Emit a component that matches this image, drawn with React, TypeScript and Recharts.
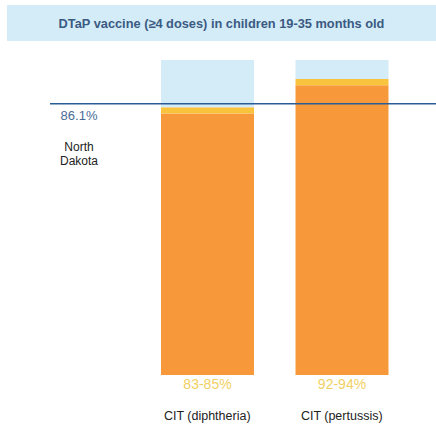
import { BarChart, Bar, XAxis, YAxis, ReferenceLine, LabelList } from "recharts";

const categories = ["CIT (diphtheria)", "CIT (pertussis)"];
const lowEstimate = [83, 92];
const highEstimate = [85, 94];
const rangeLabels = ["83-85%", "92-94%"];
const stateRate = 86.1;
const stateName = ["North", "Dakota"];
const title = "DTaP vaccine (\u22654 doses) in children 19-35 months old";

const data = categories.map((name, i) => ({
  name,
  low: lowEstimate[i],
  band: highEstimate[i] - lowEstimate[i],
  rest: 100 - highEstimate[i],
  range: rangeLabels[i],
}));

const FONT = "'Liberation Sans', Arial, sans-serif";

// eslint-disable-next-line @typescript-eslint/no-explicit-any
function CategoryTick({ x, y, payload }: any) {
  return (
    <text x={x} y={y} dy={45} textAnchor="middle" fontSize={12.5} fill="#222" fontFamily={FONT}>
      {payload.value}
    </text>
  );
}

// eslint-disable-next-line @typescript-eslint/no-explicit-any
function RangeLabel({ x, y, width, height, value }: any) {
  return (
    <text x={x + width / 2} y={y + height + 14} textAnchor="middle" fontSize={14} fill="#f1d064" fontFamily={FONT}>
      {value}
    </text>
  );
}

// eslint-disable-next-line @typescript-eslint/no-explicit-any
function StateLine({ y1 }: any) {
  return (
    <g fontFamily={FONT}>
      <line x1={50} x2={436} y1={y1} y2={y1} stroke="#2a5d96" strokeWidth={1.5} />
      <text x={79} y={y1 + 16} textAnchor="middle" fontSize={13} fill="#4a6b96">
        {stateRate}%
      </text>
      {stateName.map((s, i) => (
        <text key={s} x={79} y={y1 + 47 + i * 14} textAnchor="middle" fontSize={12} fill="#222">
          {s}
        </text>
      ))}
    </g>
  );
}

export default function App() {
  return (
    <div style={{ position: "absolute", left: 0, top: 0, width: 436, height: 427, background: "#fff" }}>
      <div
        style={{
          position: "absolute", left: 7, top: 5, width: 429, height: 36, background: "#d3ecf8",
          display: "flex", alignItems: "center", justifyContent: "center",
          fontFamily: FONT, fontWeight: "bold", fontSize: 12.8, color: "#3b5a82",
        }}
      >
        {title}
      </div>
      <BarChart width={436} height={427} data={data} margin={{ top: 60, right: 27, left: 140, bottom: 0 }} barSize={93}>
        <XAxis dataKey="name" height={52} axisLine={false} tickLine={false} tickSize={0} tickMargin={0} tick={<CategoryTick />} interval={0} />
        <YAxis hide domain={[0, 100]} />
        <Bar dataKey="low" stackId="a" fill="#f7993b" isAnimationActive={false}>
          <LabelList dataKey="range" content={<RangeLabel />} />
        </Bar>
        <Bar dataKey="band" stackId="a" fill="#f9c33e" isAnimationActive={false} />
        <Bar dataKey="rest" stackId="a" fill="#d3ecf8" isAnimationActive={false} />
        <ReferenceLine y={stateRate} ifOverflow="visible" shape={<StateLine />} />
      </BarChart>
    </div>
  );
}
